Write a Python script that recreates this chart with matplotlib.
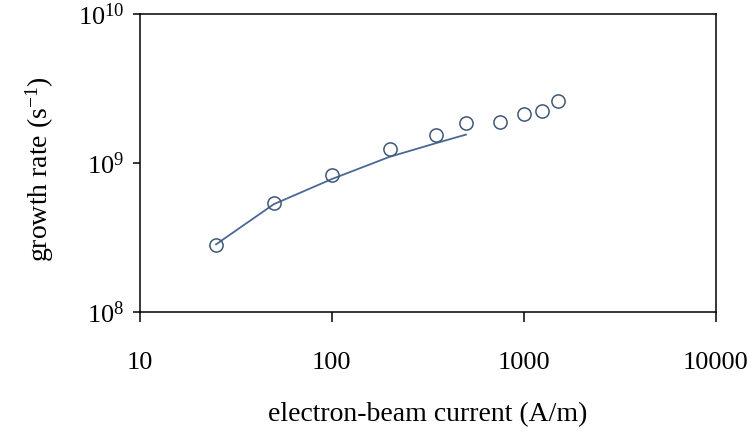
import matplotlib
matplotlib.use('Agg')
import matplotlib.pyplot as plt
from matplotlib.ticker import FixedLocator, NullLocator

plt.rcParams['font.family'] = ['Liberation Serif', 'DejaVu Serif']
plt.rcParams['mathtext.fontset'] = 'custom'
plt.rcParams['mathtext.rm'] = 'Liberation Serif'
plt.rcParams['mathtext.it'] = 'Liberation Serif:italic'

# measured growth rates vs beam current
current_pts = [25, 50, 100, 200, 350, 500, 750, 1000, 1250, 1500]
rate_pts = [2.8e8, 5.4e8, 8.3e8, 1.24e9, 1.54e9, 1.86e9, 1.89e9, 2.12e9, 2.23e9, 2.61e9]

# model curve
current_fit = [25, 50, 100, 200, 350, 500]
rate_fit = [2.85e8, 5.3e8, 7.8e8, 1.1e9, 1.36e9, 1.55e9]

xticks = [10, 100, 1000, 10000]
xtick_labels = ['10', '100', '1000', '10000']
yticks = [1e8, 1e9, 1e10]
ytick_labels = ['$10^{8}$', '$10^{9}$', '$10^{10}$']

fig = plt.figure(figsize=(7.55, 4.33), dpi=100)
ax = fig.add_axes([0.185, 0.279, 0.763, 0.689])

ax.plot(current_fit, rate_fit, color='#4a6896', lw=1.3)
ax.plot(current_pts, rate_pts, 'o', ms=9.5, mfc='none', mec='#3f5878', mew=1.1)

ax.set_xscale('log')
ax.set_yscale('log')
ax.set_xlim(10, 10000)
ax.set_ylim(1e8, 1e10)

ax.xaxis.set_major_locator(FixedLocator(xticks))
ax.xaxis.set_minor_locator(NullLocator())
ax.set_xticklabels(xtick_labels)
ax.yaxis.set_major_locator(FixedLocator(yticks))
ax.yaxis.set_minor_locator(NullLocator())
ax.set_yticklabels(ytick_labels)

ax.tick_params(axis='x', direction='out', length=7, width=1.1, labelsize=19, pad=22)
ax.tick_params(axis='y', direction='out', length=5, width=1.1, labelsize=19, pad=6)
for s in ax.spines.values():
    s.set_linewidth(1.1)

ax.set_xlabel('electron-beam current (A/m)', fontsize=20)
ax.set_ylabel('growth rate (s$^{-1}$)', fontsize=20)
ax.xaxis.set_label_coords(0.5, -0.30)
ax.yaxis.set_label_coords(-0.146, 0.48)

fig.savefig('out.png', dpi=100)
